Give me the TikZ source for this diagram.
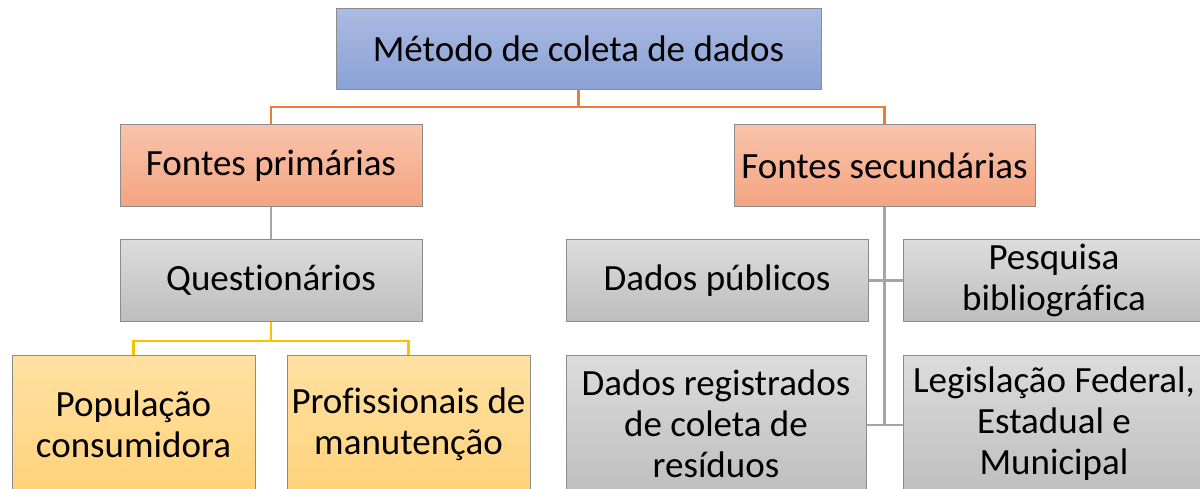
\documentclass[tikz,border=0pt]{standalone}
\usepackage{fontspec}
\setmainfont{Carlito}[Ligatures={NoCommon,TeX}]
\definecolor{bluetop}{HTML}{ABBAE1}
\definecolor{bluebot}{HTML}{8AA2D6}
\definecolor{orgtop}{HTML}{F8C3AB}
\definecolor{orgbot}{HTML}{F4A480}
\definecolor{graytop}{HTML}{DCDCDC}
\definecolor{graybot}{HTML}{BEBEBE}
\definecolor{yeltop}{HTML}{FFE1A2}
\definecolor{yelbot}{HTML}{FFD27A}
\definecolor{edge}{HTML}{8C8C8C}
\definecolor{lorange}{HTML}{ED7D31}
\definecolor{lgray}{HTML}{A5A5A5}
\definecolor{lyellow}{HTML}{FFC000}
\tikzset{
  box/.style={draw=edge, line width=1pt, rectangle, inner sep=0pt, align=center,
    font=\fontsize{37}{41}\selectfont, text=black},
  bluebox/.style={box, top color=bluetop, bottom color=bluebot},
  orgbox/.style={box, top color=orgtop, bottom color=orgbot},
  graybox/.style={box, top color=graytop, bottom color=graybot},
  yelbox/.style={box, top color=yeltop, bottom color=yelbot},
  oline/.style={draw=lorange, line width=2.2pt},
  gline/.style={draw=lgray, line width=2.2pt},
  yline/.style={draw=lyellow, line width=2.6pt},
}
\begin{document}
\begin{tikzpicture}[x=1pt,y=-1pt]
\useasboundingbox (0,0) rectangle (1200,489);
\clip (0,0) rectangle (1200,489);
\fill[white] (0,0) rectangle (1200,489);
\coordinate (ob) at (578.5,107);
\coordinate (yb) at (271,341);
\coordinate (gv) at (884.5,425);
\node[bluebox, minimum width=485pt, minimum height=81pt] (top) at (578.5,49) {Método de coleta de dados};
\node[orgbox, minimum width=302pt, minimum height=82pt] (fp) at (271,166) {Fontes primárias};
\node[orgbox, minimum width=301pt, minimum height=82pt] (fs) at (884.5,166) {Fontes secundárias};
\node[graybox, minimum width=302pt, minimum height=81pt] (q) at (271,280.5) {Questionários};
\node[yelbox, minimum width=243pt, minimum height=138pt] (pop) at (133.5,424) {População\\consumidora};
\node[yelbox, minimum width=243pt, minimum height=138pt] (prof) at (408.5,424) {Profissionais de\\manutenção};
\node[graybox, minimum width=302pt, minimum height=81pt] (dp) at (717,280.5) {Dados públicos};
\node[graybox, minimum width=302pt, minimum height=81pt] (pq) at (1054,280.5) {Pesquisa\\bibliográfica};
\node[graybox, minimum width=300pt, minimum height=138pt] (dr) at (716,424) {Dados registrados\\de coleta de\\resíduos};
\node[graybox, minimum width=302pt, minimum height=138pt] (lg) at (1054,424) {Legislação Federal,\\Estadual e\\Municipal};
% orange
\draw[oline] (top.south) -- (ob);
\draw[oline] (fp.north) |- (ob) -| (fs.north);
% gray
\draw[gline] (fp.south) -- (q.north);
\draw[gline] (fs.south) -- (gv);
\draw[gline] (dp.east) -- (pq.west);
\draw[gline] (dr.east |- gv) -- (lg.west |- gv);
% yellow
\draw[yline] (q.south) -- (yb);
\draw[yline] (pop.north) |- (yb) -| (prof.north);
\end{tikzpicture}
\end{document}
